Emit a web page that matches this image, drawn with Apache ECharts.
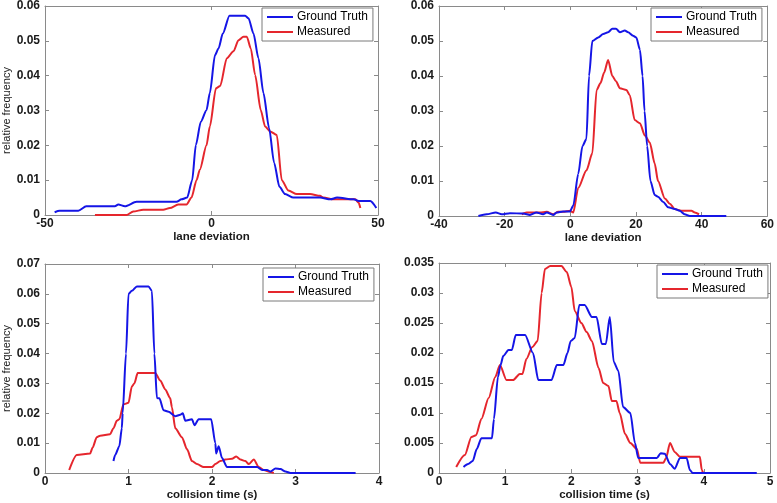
<!DOCTYPE html>
<html>
<head>
<meta charset="utf-8">
<script src="https://cdn.jsdelivr.net/npm/echarts@6/dist/echarts.min.js"></script>
<style>
html,body{margin:0;padding:0;background:#fff;}
#c{width:777px;height:503px;}
</style>
</head>
<body>
<div id="c"></div>
<script>
// ---------- Data ----------
const seriesNames = ['Ground Truth', 'Measured'];
const xAxisNames = ['lane deviation', 'lane deviation', 'collision time (s)', 'collision time (s)'];
const yAxisName = 'relative frequency';

// Panel 1 (top-left)
const p1GtX = [-47.1, -45.6, -40, -37.6, -29, -28, -26, -22.5, -10.5, -9, -7.3, -5.8, -4.7, -3.2, -1.5, -0.5, 1.05, 2.1, 3.4, 5.4, 10.1, 11.1, 12.6, 14.1, 15.6, 17.3, 18.8, 20.4, 22.1, 24.6, 32.6, 35.7, 37.7, 42.7, 44.2, 47.7, 49.5];
const p1GtY = [0.0008, 0.0012, 0.0012, 0.0025, 0.0025, 0.003, 0.0025, 0.0038, 0.0038, 0.0045, 0.005, 0.01, 0.0201, 0.0268, 0.0301, 0.035, 0.0459, 0.0478, 0.0521, 0.0572, 0.0572, 0.0565, 0.0521, 0.045, 0.035, 0.0249, 0.015, 0.0081, 0.006, 0.005, 0.005, 0.0045, 0.005, 0.0045, 0.004, 0.004, 0.002];
const p1MsX = [-35, -25.5, -23.5, -20.5, -14.5, -12.5, -10, -7.5, -6, -4.5, -3.5, -1.5, -0.5, 1.35, 2.6, 4.6, 6.6, 8.1, 9.6, 10.6, 11.8, 13.1, 14.8, 16.1, 17.6, 19.6, 21.1, 23.1, 25.6, 29.6, 32.6, 33.6, 36.7, 43.2, 44.2, 44.7];
const p1MsY = [0, 0, 0.001, 0.0015, 0.0015, 0.002, 0.003, 0.003, 0.005, 0.01, 0.013, 0.02, 0.0254, 0.0364, 0.037, 0.045, 0.047, 0.0502, 0.0512, 0.0512, 0.0478, 0.0402, 0.0301, 0.0254, 0.024, 0.023, 0.01, 0.007, 0.006, 0.006, 0.0055, 0.005, 0.0045, 0.0045, 0.0035, 0.002];

// Panel 2 (top-right)
const p2GtX = [-28, -25.5, -22.7, -20.9, -18.4, -14.3, -12.3, -10.3, -8.3, -7.2, -5.2, -4.2, -2.2, -0.1, 0.9, 2.4, 3.7, 4.9, 5.7, 6.7, 8.5, 10, 11.5, 12.8, 13.9, 15.1, 16.6, 17.6, 19.1, 20.1, 21.2, 22, 22.6, 23.4, 24.4, 25.7, 26.7, 28.3, 29.8, 31.8, 33.3, 34.8, 36.4, 47.5];
const p2GtY = [0, 0.0005, 0.001, 0.0005, 0.0008, 0.0007, 0.0003, 0.001, 0.0005, 0.001, 0.0003, 0.001, 0.0013, 0.0013, 0.003, 0.012, 0.02, 0.022, 0.04, 0.05, 0.051, 0.052, 0.0525, 0.0535, 0.0535, 0.0525, 0.053, 0.0525, 0.0515, 0.051, 0.0475, 0.04, 0.03, 0.02, 0.01, 0.006, 0.0055, 0.004, 0.0025, 0.002, 0.0015, 0.0005, 0, 0];
const p2MsX = [-14.8, -13.3, -9.3, -7.2, -5.2, -3.7, -2.2, -0.1, 0.9, 2.4, 4.9, 6.7, 8, 9.2, 10.3, 11.5, 12.8, 13.9, 15.1, 17.1, 18.1, 19.6, 21.2, 22.7, 24.2, 25.7, 26.7, 28.8, 30.3, 31.8, 33.8, 36.9, 37.9, 39.2];
const p2MsY = [0.0005, 0.001, 0.001, 0.0012, 0.0005, 0.0012, 0.0012, 0.0015, 0.001, 0.008, 0.013, 0.0179, 0.036, 0.038, 0.041, 0.0446, 0.04, 0.0385, 0.0365, 0.036, 0.0345, 0.0274, 0.0265, 0.023, 0.021, 0.015, 0.01, 0.005, 0.0035, 0.002, 0.0015, 0.0015, 0.001, 0.0005];

// Panel 3 (bottom-left)
const p3GtX = [0.82, 0.84, 0.89, 0.92, 0.93, 0.97, 1.0, 1.04, 1.10, 1.24, 1.28, 1.31, 1.34, 1.37, 1.42, 1.48, 1.56, 1.62, 1.65, 1.68, 1.76, 1.79, 1.84, 1.99, 2.04, 2.05, 2.08, 2.12, 2.18, 2.54, 2.6, 2.66, 2.70, 2.76, 2.82, 2.88, 2.94, 3.72];
const p3GtY = [0.004, 0.006, 0.009, 0.015, 0.02, 0.04, 0.06, 0.061, 0.0625, 0.0625, 0.061, 0.04, 0.0251, 0.025, 0.021, 0.0205, 0.019, 0.0195, 0.02, 0.0175, 0.018, 0.016, 0.018, 0.018, 0.01, 0.0065, 0.009, 0.005, 0.002, 0.002, 0.001, 0.001, 0.0005, 0.0015, 0.0013, 0.0005, 0, 0];
const p3MsX = [0.29, 0.38, 0.54, 0.57, 0.62, 0.66, 0.78, 0.82, 0.86, 0.89, 0.94, 1.0, 1.04, 1.07, 1.11, 1.32, 1.38, 1.44, 1.5, 1.52, 1.56, 1.64, 1.70, 1.76, 1.82, 1.90, 2.0, 2.04, 2.10, 2.16, 2.24, 2.29, 2.34, 2.4, 2.44, 2.5, 2.56, 2.62, 2.70, 2.74];
const p3MsY = [0.001, 0.006, 0.0065, 0.0085, 0.012, 0.0125, 0.013, 0.015, 0.0175, 0.018, 0.023, 0.0235, 0.029, 0.03, 0.0335, 0.0335, 0.031, 0.028, 0.025, 0.022, 0.015, 0.012, 0.008, 0.004, 0.003, 0.002, 0.002, 0.003, 0.004, 0.0045, 0.0048, 0.0055, 0.0045, 0.004, 0.003, 0.0045, 0.002, 0.001, 0.0003, 0];

// Panel 4 (bottom-right)
const p4GtX = [0.37, 0.44, 0.51, 0.57, 0.64, 0.80, 0.83, 0.89, 0.93, 0.97, 1.05, 1.10, 1.16, 1.30, 1.42, 1.50, 1.70, 1.78, 1.88, 1.94, 1.99, 2.05, 2.12, 2.20, 2.31, 2.38, 2.46, 2.52, 2.58, 2.64, 2.71, 2.78, 2.89, 2.96, 3.01, 3.29, 3.35, 3.41, 3.49, 3.56, 3.64, 3.74, 3.79, 3.83, 4.8];
const p4GtY = [0.001, 0.0015, 0.002, 0.004, 0.0058, 0.0058, 0.009, 0.016, 0.018, 0.0195, 0.0205, 0.0205, 0.023, 0.023, 0.02, 0.0155, 0.0155, 0.018, 0.018, 0.02, 0.022, 0.0225, 0.028, 0.028, 0.026, 0.026, 0.0215, 0.0215, 0.026, 0.0185, 0.017, 0.011, 0.01, 0.005, 0.0025, 0.0025, 0.0033, 0.0032, 0.0015, 0.0007, 0.0025, 0.0025, 0.0005, 0, 0];
const p4MsX = [0.26, 0.39, 0.49, 0.56, 0.64, 0.75, 0.85, 0.92, 1.02, 1.12, 1.22, 1.26, 1.32, 1.41, 1.49, 1.55, 1.60, 1.68, 1.85, 1.93, 2.00, 2.05, 2.15, 2.23, 2.31, 2.41, 2.48, 2.56, 2.61, 2.68, 2.73, 2.81, 2.89, 2.99, 3.04, 3.39, 3.43, 3.49, 3.56, 3.64, 3.94, 3.97, 3.99];
const p4MsY = [0.001, 0.003, 0.006, 0.0063, 0.009, 0.0125, 0.016, 0.018, 0.0155, 0.0155, 0.0165, 0.0165, 0.019, 0.021, 0.022, 0.03, 0.034, 0.0345, 0.0345, 0.0335, 0.031, 0.027, 0.025, 0.0235, 0.022, 0.0175, 0.015, 0.0145, 0.012, 0.012, 0.01, 0.0065, 0.005, 0.004, 0.0017, 0.0017, 0.0025, 0.005, 0.0035, 0.0027, 0.0027, 0.0005, 0];

// Axis ranges / tick intervals
const xRanges = [[-50, 50, 50], [-40, 60, 20], [0, 4, 1], [0, 5, 1]];
const yRanges = [[0, 0.06, 0.01], [0, 0.06, 0.01], [0, 0.07, 0.01], [0, 0.035, 0.005]];

// ---------- Layout ----------
const grids = [
  {left: 45, top: 6, width: 333, height: 209},
  {left: 439, top: 6, width: 329, height: 210},
  {left: 45, top: 264, width: 334, height: 209},
  {left: 439, top: 263, width: 331, height: 210}
];
const legendPos = [
  {left: 262, top: 8},
  {left: 651, top: 8},
  {left: 263, top: 268},
  {left: 657, top: 265}
];
const showYName = [true, false, true, false];

const AX = '#8a8a8a';
const TXT = '#1a1a1a';
const BLUE = '#1515e6';
const RED = '#e5262d';
const FONT = '"Liberation Sans", Arial, Helvetica, sans-serif';

function pairs(xs, ys) { return xs.map((x, i) => [x, ys[i]]); }
const panelData = [
  [pairs(p1GtX, p1GtY), pairs(p1MsX, p1MsY)],
  [pairs(p2GtX, p2GtY), pairs(p2MsX, p2MsY)],
  [pairs(p3GtX, p3GtY), pairs(p3MsX, p3MsY)],
  [pairs(p4GtX, p4GtY), pairs(p4MsX, p4MsY)]
];

const xAxis = [], yAxis = [], series = [], legend = [];
grids.forEach((g, i) => {
  const [xmin, xmax, xint] = xRanges[i];
  const [ymin, ymax, yint] = yRanges[i];
  const base = {
    gridIndex: i,
    axisLine: {show: true, onZero: false, lineStyle: {color: AX, width: 1}},
    axisTick: {show: true, inside: true, length: 4, lineStyle: {color: AX}},
    splitLine: {show: false}
  };
  xAxis.push(Object.assign({}, base, {
    type: 'value', position: 'bottom', min: xmin, max: xmax, interval: xint,
    name: xAxisNames[i], nameLocation: 'middle', nameGap: 15,
    nameTextStyle: {fontFamily: FONT, fontSize: 11.5, fontWeight: 'bold', color: TXT},
    axisLabel: {show: true, margin: 3, fontFamily: FONT, fontSize: 12, fontWeight: 'bold', color: TXT,
      formatter: v => String(+v.toFixed(3))}
  }));
  xAxis.push(Object.assign({}, base, {
    type: 'value', position: 'top', min: xmin, max: xmax, interval: xint,
    axisLabel: {show: false}
  }));
  yAxis.push(Object.assign({}, base, {
    type: 'value', position: 'left', min: ymin, max: ymax, interval: yint,
    name: showYName[i] ? yAxisName : '', nameLocation: 'middle', nameGap: 30,
    nameTextStyle: {fontFamily: FONT, fontSize: 11, color: TXT},
    axisLabel: {show: true, margin: 5, fontFamily: FONT, fontSize: 12, fontWeight: 'bold', color: TXT,
      formatter: v => String(+v.toFixed(3))}
  }));
  yAxis.push(Object.assign({}, base, {
    type: 'value', position: 'right', min: ymin, max: ymax, interval: yint,
    axisLabel: {show: false}
  }));
  [BLUE, RED].forEach((col, k) => {
    series.push({
      type: 'line', name: seriesNames[k],
      xAxisIndex: i * 2, yAxisIndex: i * 2,
      data: panelData[i][k],
      showSymbol: false, symbol: 'none',
      smooth: 0.25, smoothMonotone: 'x',
      lineStyle: {color: col, width: 2},
      itemStyle: {color: col},
      z: k === 0 ? 3 : 2
    });
  });
  legend.push({
    left: legendPos[i].left, top: legendPos[i].top,
    orient: 'vertical', data: seriesNames,
    icon: 'rect', itemWidth: 26, itemHeight: 2, itemGap: 3,
    padding: [3, 5, 3, 5],
    borderColor: '#7a7a7a', borderWidth: 1, backgroundColor: '#fff',
    selectedMode: false,
    textStyle: {fontFamily: FONT, fontSize: 12, color: '#000', padding: [0, 0, 0, -1]}
  });
});

const chart = echarts.init(document.getElementById('c'), null, {renderer: 'canvas'});
chart.setOption({
  animation: false,
  backgroundColor: '#fff',
  grid: grids.map(g => Object.assign({containLabel: false}, g)),
  xAxis, yAxis, series, legend
});
</script>
</body>
</html>
